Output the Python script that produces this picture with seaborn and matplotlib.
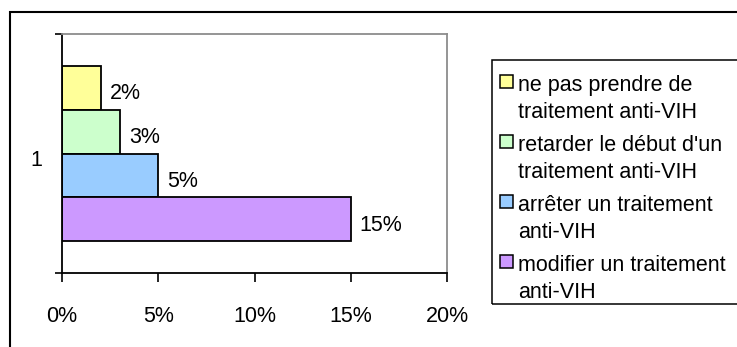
import matplotlib
matplotlib.use("Agg")
import matplotlib.pyplot as plt
import matplotlib.transforms as mtransforms
from matplotlib.patches import Rectangle
import pandas as pd
import seaborn as sns

# ---- data ----
categories = ["1"]
series = [
    "ne pas prendre de traitement anti-VIH",
    "retarder le début d'un traitement anti-VIH",
    "arrêter un traitement anti-VIH",
    "modifier un traitement anti-VIH",
]
legend_lines = [
    ["ne pas prendre de", "traitement anti-VIH"],
    ["retarder le début d'un", "traitement anti-VIH"],
    ["arrêter un traitement", "anti-VIH"],
    ["modifier un traitement", "anti-VIH"],
]
values = [0.02, 0.03, 0.05, 0.15]
colors = ["#FFFF99", "#CCFFCC", "#99CCFF", "#CC99FF"]
x_ticks = [0.0, 0.05, 0.10, 0.15, 0.20]
x_tick_labels = ["0%", "5%", "10%", "15%", "20%"]

# ---- style ----
sns.set_theme(style="white")
plt.rcParams["font.family"] = ["Liberation Sans", "DejaVu Sans"]
plt.rcParams["text.color"] = "black"
FS = 15.5

W, H = 737, 347
fig = plt.figure(figsize=(W / 100, H / 100), dpi=100)
fig.patch.set_facecolor("white")

def px_box(left, top, right, bottom):
    return [left / W, 1 - bottom / H, (right - left) / W, (bottom - top) / H]

ax = fig.add_axes(px_box(62, 34, 447, 273))

df = pd.DataFrame({
    "categorie": categories * len(series),
    "serie": series,
    "valeur": values,
})
sns.barplot(
    data=df, x="valeur", y="categorie", hue="serie", hue_order=series,
    palette=colors, orient="h", width=0.736, saturation=1,
    edgecolor="black", linewidth=1.3, legend=False, ax=ax,
)

ax.set_xlim(0, 0.20)
ax.set_ylim(0.5, -0.5)
ax.set_xlabel("")
ax.set_ylabel("")

# spines
for side in ("left", "bottom"):
    ax.spines[side].set_color("black")
    ax.spines[side].set_linewidth(1.3)
for side in ("top", "right"):
    ax.spines[side].set_color("#8c8c8c")
    ax.spines[side].set_linewidth(1.3)

# x axis
ax.set_xticks(x_ticks)
ax.set_xticklabels(x_tick_labels)
ax.tick_params(axis="x", direction="out", length=6.5, width=1.2,
               color="black", pad=17, labelsize=FS, labelcolor="black",
               bottom=True)

# y axis: label at the category centre, ticks at its boundaries
ax.set_yticks([0])
ax.set_yticklabels(categories)
ax.set_yticks([-0.5, 0.5], minor=True)
ax.tick_params(axis="y", which="major", length=0, pad=14,
               labelsize=FS, labelcolor="black", left=True)
ax.tick_params(axis="y", which="minor", direction="out", length=5,
               width=1.2, color="black", left=True)
shift = mtransforms.ScaledTranslation(0, -5 / 100, fig.dpi_scale_trans)
for t in ax.yaxis.get_major_ticks():
    t.label1.set_transform(t.label1.get_transform() + shift)

# value labels at the bar ends
for cont, v in zip(ax.containers, values):
    bar = cont[0]
    yc = bar.get_y() + bar.get_height() / 2
    ax.annotate(f"{v:.0%}", xy=(bar.get_width(), yc), xytext=(9, -6),
                textcoords="offset pixels", ha="left", va="center",
                fontsize=FS, color="black")

# outer chart frame
fig.add_artist(Rectangle((10 / W, 1 - 400 / H), 800 / W, 388 / H,
                         transform=fig.transFigure, fill=False,
                         edgecolor="black", linewidth=1.5))

# legend box
fig.add_artist(Rectangle((492 / W, 1 - 304 / H), 300 / W, 244 / H,
                         transform=fig.transFigure, fill=False,
                         edgecolor="black", linewidth=1.1))
for i, (lines, col) in enumerate(zip(legend_lines, colors)):
    base = 91 + 60 * i
    fig.add_artist(Rectangle((500 / W, 1 - (base - 3) / H), 13 / W, 13 / H,
                             transform=fig.transFigure, facecolor=col,
                             edgecolor="black", linewidth=1.1))
    for j, line in enumerate(lines):
        fig.text(518 / W, 1 - (base + 27 * j) / H, line, fontsize=FS,
                 ha="left", va="baseline", color="black")

fig.savefig("out.png", dpi=100)
